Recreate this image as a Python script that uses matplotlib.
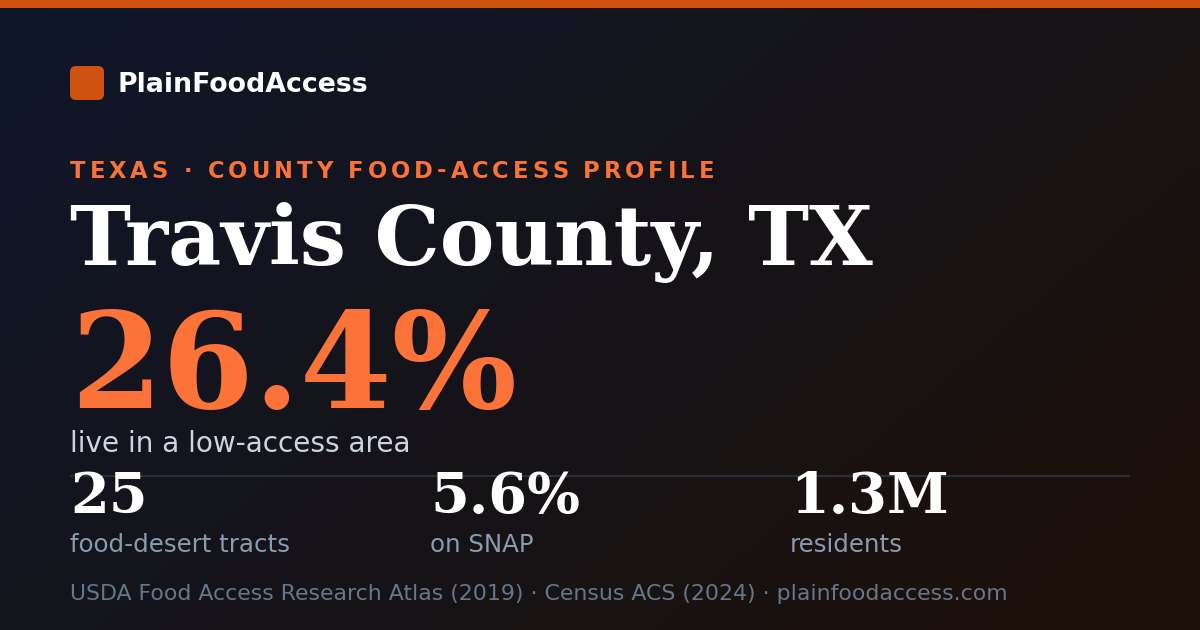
import numpy as np
import matplotlib
matplotlib.use("Agg")
import matplotlib.pyplot as plt
from matplotlib.patches import FancyBboxPatch, Rectangle

# ---- data ----
brand = "PlainFoodAccess"
kicker = "TEXAS · COUNTY FOOD-ACCESS PROFILE"
county = "Travis County, TX"
low_access_pct = 26.4
headline_label = "live in a low-access area"
stat_values = ["25", "5.6%", "1.3M"]
stat_labels = ["food-desert tracts", "on SNAP", "residents"]
sources = "USDA Food Access Research Atlas (2019) · Census ACS (2024) · plainfoodaccess.com"

W, H = 1200, 630
fig = plt.figure(figsize=(12, 6.3), dpi=100)
ax = fig.add_axes([0, 0, 1, 1])
ax.set_xlim(0, W)
ax.set_ylim(H, 0)
ax.axis("off")

# background diagonal gradient
c0 = np.array([15, 23, 42]) / 255
c1 = np.array([29, 16, 7]) / 255
yy, xx = np.mgrid[0:H:2, 0:W:2]
t = (xx / W * 0.62 + yy / H * 0.38)
t = np.clip(t, 0, 1)[..., None]
img = c0 * (1 - t) + c1 * t
ax.imshow(img, extent=[0, W, H, 0], aspect="auto", zorder=0, interpolation="bilinear")

ax.add_patch(Rectangle((0, 0), W, 8, color="#cf5210", zorder=2, lw=0))

renderer = fig.canvas.get_renderer()

def width_of(s, size, **kw):
    t = ax.text(0, 0, s, fontsize=size, **kw)
    w = t.get_window_extent(renderer).width
    t.remove()
    return w

def fit_size(s, target_w, guess, **kw):
    return guess * target_w / width_of(s, guess, **kw)

def fit(x, y, s, target_w, guess, **kw):
    size = fit_size(s, target_w, guess, **kw)
    return ax.text(x, y, s, fontsize=size, va="baseline", ha="left", zorder=5, **kw)

sans = dict(family="DejaVu Sans")
serif = dict(family="DejaVu Serif", fontweight="bold")

# logo
ax.add_patch(FancyBboxPatch((70 + 6, 66 + 6), 34 - 12, 34 - 12,
                            boxstyle="round,pad=6", color="#cf5210", lw=0, zorder=3))
fit(118, 92, brand, 251, 18, color="white", fontweight="bold", **sans)

# kicker with letter spacing
ksize = 16.3
kkw = dict(color="#f97336", fontweight="bold", **sans)
w0 = width_of(kicker, ksize, **kkw)
spacing = (644 - w0) / (len(kicker) - 1)
for i, ch in enumerate(kicker):
    if ch == " ":
        continue
    px = width_of(kicker[:i], ksize, **kkw) if i > 0 else 0
    ax.text(70 + px + i * spacing, 177.5, ch, fontsize=ksize, va="baseline",
            ha="left", zorder=5, **kkw)

# title and headline
fit(70, 265, county, 803, 58, color="white", **serif)
fit(70, 408, f"{low_access_pct}%", 447, 98, color="#fb7338", **serif)
fit(70, 452, headline_label, 342, 19, color="#cbd5e1", **sans)

# divider
ax.plot([70, 1130], [476, 476], color="#2a2e38", lw=1.6, zorder=3, solid_capstyle="butt")

# stats
vsize = fit_size(stat_values[1], 150, 40, **serif)
lsize = fit_size(stat_labels[0], 220, 17, **sans)
for i, (v, l) in enumerate(zip(stat_values, stat_labels)):
    x = 70 + i * 360
    ax.text(x, 513, v, fontsize=vsize, va="baseline", ha="left", color="white", zorder=5, **serif)
    ax.text(x, 552, l, fontsize=lsize, va="baseline", ha="left", color="#8a9ab0", zorder=5, **sans)

fit(70, 600, sources, 936, 16, color="#66768c", **sans)

fig.savefig("out.png", dpi=100)
